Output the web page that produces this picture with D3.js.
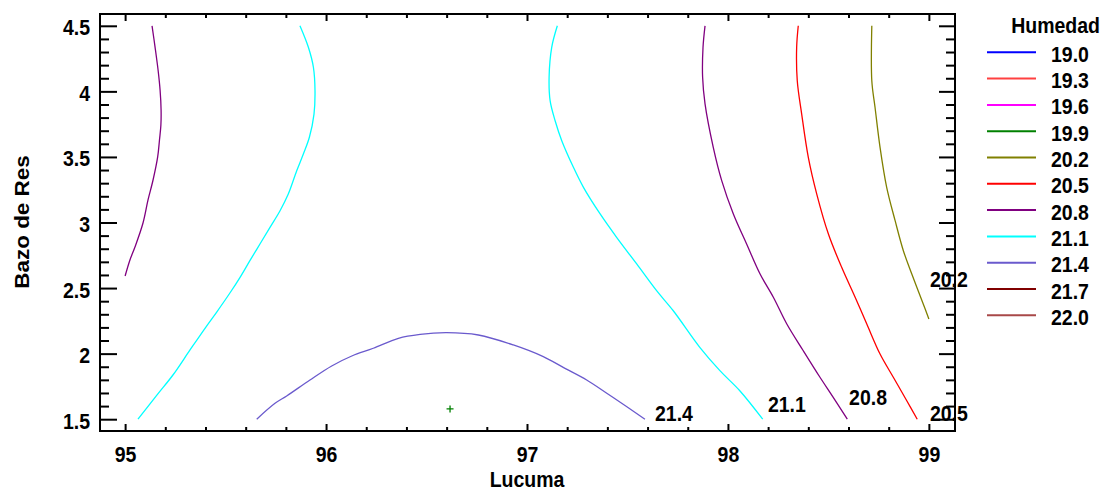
<!DOCTYPE html>
<html>
<head>
<meta charset="utf-8">
<script src="https://cdn.jsdelivr.net/npm/d3@7"></script>
<style>
body { margin: 0; background: #fff; }
text { font-family: "Liberation Sans", Arial, sans-serif; font-weight: bold; font-size: 19.5px; fill: #000; }
</style>
</head>
<body>
<div id="chart"></div>
<script>
// legend levels and their colours
var levels = ["19.0", "19.3", "19.6", "19.9", "20.2", "20.5", "20.8", "21.1", "21.4", "21.7", "22.0"];
var levelColors = ["#0000ff", "#ff4040", "#ff00ff", "#008000", "#808000", "#ff0000",
                   "#800080", "#00ffff", "#6a5acd", "#800000", "#a84848"];

// axis ticks
var xTicks = [95, 96, 97, 98, 99];
var yTicks = [1.5, 2, 2.5, 3, 3.5, 4, 4.5];

// contour lines: [Lucuma, Bazo de Res]
var c208Left = [[95.134,4.5],[95.149,4.338],[95.164,4.163],[95.174,4.010],[95.179,3.858],[95.178,3.743],
  [95.171,3.629],[95.162,3.500],[95.139,3.324],[95.114,3.172],[95.089,2.996],[95.049,2.813],[95.024,2.714],[95.0,2.592]];
var c211Left = [[95.870,4.5],[95.912,4.336],[95.937,4.184],[95.945,4.005],[95.940,3.827],[95.917,3.650],
  [95.887,3.522],[95.854,3.395],[95.812,3.217],[95.771,3.090],[95.721,2.963],[95.671,2.836],[95.621,2.709],
  [95.572,2.582],[95.524,2.468],[95.455,2.315],[95.402,2.203],[95.323,2.028],[95.238,1.837],[95.159,1.685],[95.064,1.5]];
var c211Right = [[97.151,4.5],[97.123,4.336],[97.110,4.107],[97.115,3.929],[97.140,3.776],[97.173,3.624],
  [97.231,3.421],[97.281,3.268],[97.364,3.065],[97.446,2.887],[97.546,2.684],[97.645,2.480],[97.728,2.327],
  [97.860,2.048],[97.960,1.870],[98.059,1.717],[98.173,1.5]];
var c208Right = [[97.886,4.5],[97.876,4.336],[97.874,4.107],[97.886,3.904],[97.927,3.573],[97.969,3.319],
  [98.027,3.065],[98.093,2.836],[98.160,2.607],[98.226,2.430],[98.293,2.226],[98.375,2.022],[98.458,1.820],
  [98.524,1.667],[98.594,1.5]];
var c205 = [[98.350,4.5],[98.342,4.336],[98.345,4.081],[98.367,3.827],[98.400,3.497],[98.442,3.217],
  [98.500,2.912],[98.566,2.658],[98.633,2.430],[98.691,2.226],[98.757,1.997],[98.823,1.820],[98.890,1.641],[98.942,1.5]];
var c202 = [[98.716,4.5],[98.716,4.081],[98.732,3.879],[98.757,3.573],[98.790,3.268],[98.832,3.014],
  [98.873,2.785],[98.915,2.607],[98.972,2.379],[99.0,2.264]];
var c214 = [[95.655,1.5],[95.746,1.621],[95.804,1.677],[95.920,1.799],[96.028,1.906],[96.128,1.982],
  [96.235,2.041],[96.360,2.117],[96.468,2.147],[96.600,2.160],[96.758,2.142],[96.932,2.066],[97.081,1.977],
  [97.189,1.888],[97.297,1.799],[97.397,1.698],[97.497,1.595],[97.587,1.5]];

// label text and where it sits
var labelTexts = ["21.4", "21.1", "20.8", "20.5", "20.2"];
var labelAt = [[97.637,1.49],[98.199,1.553],[98.603,1.611],[99.005,1.489],[99.005,2.506]];

// point of optimum
var optimum = [96.617, 1.578];

var width = 1104, height = 491;
var S = 1.15; // the fonts in the picture are drawn a bit taller than wide

var svg = d3.select("#chart").append("svg")
  .attr("width", width)
  .attr("height", height);

var x = d3.scaleLinear().domain([94.875, 99.13]).range([100, 955]);
var y = d3.scaleLinear().domain([1.41, 4.59]).range([431, 14]);

var color = d3.scaleOrdinal().domain(levels).range(levelColors);

var contours = [
  {level: "20.8", pts: c208Left},
  {level: "21.1", pts: c211Left},
  {level: "21.1", pts: c211Right},
  {level: "20.8", pts: c208Right},
  {level: "20.5", pts: c205},
  {level: "20.2", pts: c202},
  {level: "21.4", pts: c214}
];

var line = d3.line()
  .x(function(d) { return x(d[0]); })
  .y(function(d) { return y(d[1]); })
  .curve(d3.curveCatmullRom);

svg.append("g").selectAll("path")
  .data(contours)
  .enter().append("path")
  .attr("d", function(d) { return line(d.pts); })
  .attr("fill", "none")
  .attr("stroke", function(d) { return color(d.level); })
  .attr("stroke-width", 1.3);

// optimum marker
var ox = x(optimum[0]), oy = y(optimum[1]);
svg.append("path")
  .attr("d", "M" + (ox - 3.5) + "," + oy + "h7M" + ox + "," + (oy - 3.5) + "v7")
  .attr("stroke", "#008000")
  .attr("stroke-width", 1.3);

// contour labels
svg.append("g").selectAll("text")
  .data(labelTexts)
  .enter().append("text")
  .attr("transform", function(d, i) {
    return "translate(" + x(labelAt[i][0]) + "," + y(labelAt[i][1]) + ") scale(1," + S + ")";
  })
  .text(function(d) { return d; });

// axes
function stretch(g, dx, dy, anchor) {
  g.selectAll("text")
    .attr("x", null).attr("y", null).attr("dy", null)
    .attr("text-anchor", anchor)
    .attr("transform", "translate(" + dx + "," + dy + ") scale(1," + S + ")");
}

var minorX = d3.range(95, 99.01, 0.2).filter(function(v) { return xTicks.indexOf(Math.round(v * 10) / 10) < 0; });
var minorY = d3.range(1.5, 4.51, 0.1).filter(function(v) { return yTicks.indexOf(Math.round(v * 10) / 10) < 0; });

var gx = svg.append("g").attr("transform", "translate(0,431)")
  .call(d3.axisBottom(x).tickValues(xTicks).tickSize(-7).tickSizeOuter(0).tickFormat(d3.format("d")));
stretch(gx, 0, 30.5, "middle");
svg.append("g").attr("transform", "translate(0,431)")
  .call(d3.axisBottom(x).tickValues(minorX).tickSize(-4).tickSizeOuter(0).tickFormat(""));
svg.append("g").attr("transform", "translate(0,14)")
  .call(d3.axisTop(x).tickValues(xTicks).tickSize(-7).tickSizeOuter(0).tickFormat(""));
svg.append("g").attr("transform", "translate(0,14)")
  .call(d3.axisTop(x).tickValues(minorX).tickSize(-4).tickSizeOuter(0).tickFormat(""));

var gy = svg.append("g").attr("transform", "translate(100,0)")
  .call(d3.axisLeft(y).tickValues(yTicks).tickSize(-17).tickSizeOuter(0).tickFormat(d3.format("")));
stretch(gy, -10, 9, "end");
svg.append("g").attr("transform", "translate(100,0)")
  .call(d3.axisLeft(y).tickValues(minorY).tickSize(-9).tickSizeOuter(0).tickFormat(""));
svg.append("g").attr("transform", "translate(955,0)")
  .call(d3.axisRight(y).tickValues(yTicks).tickSize(-16).tickSizeOuter(0).tickFormat(""));
svg.append("g").attr("transform", "translate(955,0)")
  .call(d3.axisRight(y).tickValues(minorY).tickSize(-9).tickSizeOuter(0).tickFormat(""));

svg.selectAll(".domain").remove();
svg.selectAll(".tick line").attr("stroke", "#000").attr("stroke-width", 2);
svg.selectAll(".tick text").style("font-size", "19.5px").style("font-family", null);

// frame
svg.append("rect")
  .attr("x", 100).attr("y", 14)
  .attr("width", 855).attr("height", 417)
  .attr("fill", "none")
  .attr("stroke", "#000")
  .attr("stroke-width", 2);

// axis titles
svg.append("text")
  .attr("text-anchor", "middle")
  .attr("transform", "translate(" + x(97) + ",486.5) scale(1," + S + ")")
  .text("Lucuma");

svg.append("text")
  .attr("text-anchor", "middle")
  .attr("transform", "translate(29,222) scale(1," + S + ") rotate(-90)")
  .text("Bazo de Res");

// legend
var legend = svg.append("g");
legend.append("text")
  .attr("text-anchor", "end")
  .attr("transform", "translate(1100,33) scale(1," + S + ")")
  .text("Humedad");

var item = legend.selectAll(".item")
  .data(levels)
  .enter().append("g")
  .attr("class", "item")
  .attr("transform", function(d, i) { return "translate(0," + (52.3 + i * 26.3) + ")"; });

item.append("line")
  .attr("x1", 987).attr("x2", 1036)
  .attr("stroke", function(d) { return color(d); })
  .attr("stroke-width", 2);

item.append("text")
  .attr("transform", "translate(1051,9.5) scale(1," + S + ")")
  .text(function(d) { return d; });
</script>
</body>
</html>
